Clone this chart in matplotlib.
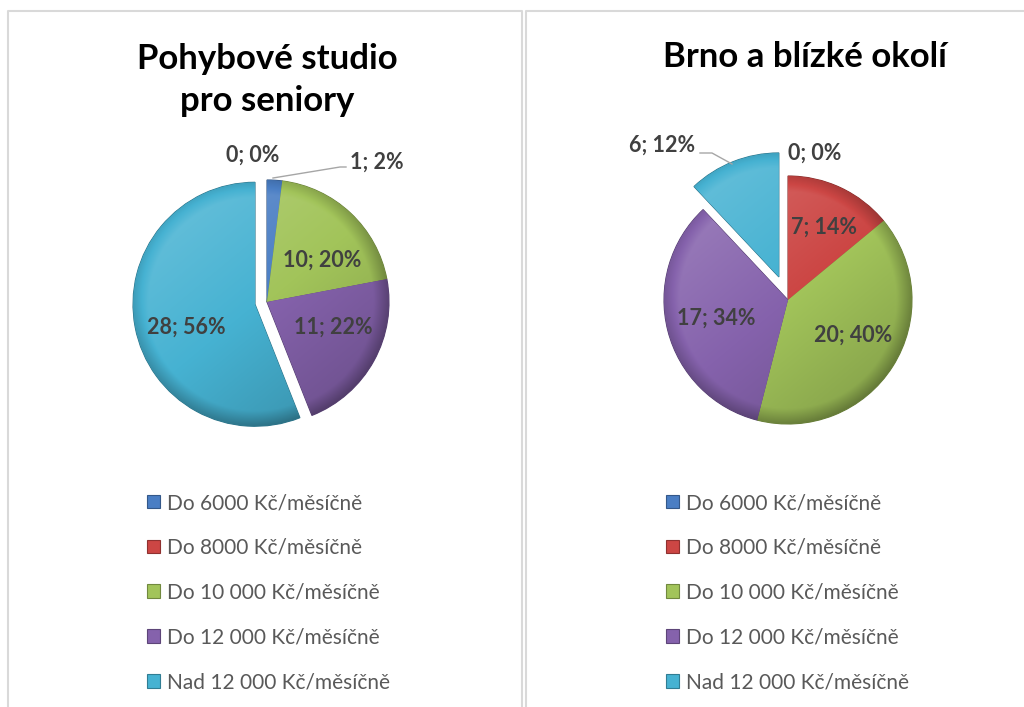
import matplotlib.pyplot as plt
import numpy as np
from matplotlib.colors import to_rgb
from matplotlib.patches import Patch

categories = ['Do 6000 Kč/měsíčně', 'Do 8000 Kč/měsíčně', 'Do 10 000 Kč/měsíčně',
              'Do 12 000 Kč/měsíčně', 'Nad 12 000 Kč/měsíčně']
studio_counts = [1, 0, 10, 11, 28]
brno_counts = [0, 7, 20, 17, 6]
studio_title = 'Pohybové studio\npro seniory'
brno_title = 'Brno a blízké okolí'
colors = ['#4A7EC4', '#CC4644', '#A2C45A', '#8562AC', '#46B2D2']

plt.rcParams['font.family'] = ['Lato', 'DejaVu Sans']

W, H = 1024, 707
fig = plt.figure(figsize=(W / 100, H / 100), dpi=100)
ax = fig.add_axes([0, 0, 1, 1])


def shade(c, k):
    c = np.array(to_rgb(c))
    if k >= 0:
        return c + (1 - c) * k
    return c * (1 + k)


def label_text(n, total):
    return f'{n}; {round(100 * n / total)}%'


def draw_pie(counts, cx, cy, r, explode):
    # explode in matplotlib is in data units, so scale by radius
    wedges, _ = ax.pie(counts, colors=colors, startangle=90, counterclock=False,
                       radius=r, center=(cx, H - cy), explode=[e * r for e in explode],
                       frame=True, wedgeprops=dict(linewidth=0.8))
    # bevel-ish gradient on each slice
    yy, xx = np.mgrid[-1:1:160j, -1:1:160j]
    rr = np.hypot(xx, yy)
    for w, c in zip(wedges, colors):
        w.set_edgecolor(shade(c, -0.35))
        if w.theta2 - w.theta1 < 0.01:
            w.set_visible(False)
            continue
        k = 0.12 * yy - 0.10 * xx - 0.22 * np.clip((rr - 0.88) / 0.12, 0, 1)
        base = np.array(to_rgb(c))
        img = np.where(k[..., None] >= 0,
                       base + (1 - base) * k[..., None],
                       base * (1 + k[..., None]))
        x0, y0 = w.center
        im = ax.imshow(np.clip(img, 0, 1), extent=(x0 - w.r, x0 + w.r, y0 - w.r, y0 + w.r),
                       origin='lower', interpolation='bilinear', zorder=w.get_zorder() + 0.1)
        im.set_clip_path(w)
    return wedges


wl = draw_pie(studio_counts, 267, 302, 122, [0, 0, 0, 0, 0.1])
wr = draw_pie(brno_counts, 788, 300, 124, [0, 0, 0, 0, 0.2])

lab_kw = dict(ha='center', va='center', fontsize=15.5, fontweight='bold', color='#404040', zorder=10)
tl = sum(studio_counts)
for n, (x, y) in zip(studio_counts, [(377, 162), (253, 155), (322, 260), (333, 327), (186, 327)]):
    ax.text(x, H - y, label_text(n, tl), **lab_kw)
tr = sum(brno_counts)
for n, (x, y) in zip(brno_counts, [(815, 153), (824, 227), (853, 335), (716, 318), (662, 145)]):
    ax.text(x, H - y, label_text(n, tr), **lab_kw)

# leader lines
ax.plot([346, 340, 273], [H - 167, H - 167, H - 178], color='#A6A6A6', lw=1, zorder=9)
ax.plot([700, 712, 732], [H - 153, H - 153, H - 164], color='#A6A6A6', lw=1, zorder=9)

title_kw = dict(ha='center', va='center', fontsize=25, fontweight='bold', color='black',
                linespacing=1.4)
ax.text(267, H - 80, studio_title, **title_kw)
ax.text(805, H - 57, brno_title, **title_kw)

handles = [Patch(facecolor=c, edgecolor=shade(c, -0.3), linewidth=0.8) for c in colors]
leg_kw = dict(loc='upper left', bbox_transform=ax.transData, frameon=False, fontsize=15,
              handlelength=0.63, handleheight=0.63, handletextpad=0.34, labelspacing=1.19,
              borderpad=0, borderaxespad=0, labelcolor='#595959')
leg1 = ax.legend(handles, categories, bbox_to_anchor=(147, H - 493), **leg_kw)
ax.add_artist(leg1)
ax.legend(handles, categories, bbox_to_anchor=(666, H - 493), **leg_kw)

# chart borders
bc = '#D9D9D9'
ax.plot([8, 8, 522, 522], [0, H - 11, H - 11, 0], color=bc, lw=1.5, zorder=0)
ax.plot([526, 526, W], [0, H - 11, H - 11], color=bc, lw=1.5, zorder=0)

ax.set_xlim(0, W)
ax.set_ylim(0, H)
ax.set_aspect('equal')
ax.axis('off')
fig.savefig('out.png', dpi=100)
